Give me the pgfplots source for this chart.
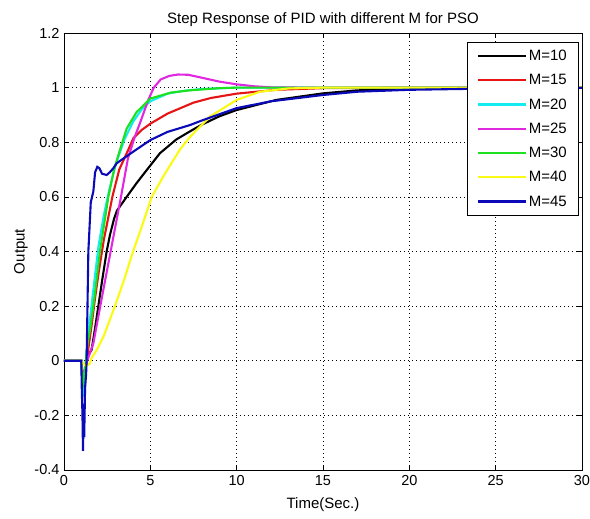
\documentclass[border=0pt]{standalone}
\usepackage{pgfplots}
\pgfplotsset{compat=1.18}
\usepackage{fontspec}
\setmainfont{Liberation Sans}
\definecolor{cblack}{rgb}{0,0,0}
\definecolor{cred}{RGB}{230,20,20}
\definecolor{ccyan}{RGB}{20,235,240}
\definecolor{cmag}{RGB}{225,40,225}
\definecolor{cgreen}{RGB}{30,225,30}
\definecolor{cyel}{RGB}{250,250,20}
\definecolor{cblue}{RGB}{10,10,185}
\begin{document}
\begin{tikzpicture}
\useasboundingbox (-64pt,-49pt) rectangle (526pt,470pt);
\begin{axis}[
  scale only axis, width=518pt, height=437pt,
  xmin=0, xmax=30, ymin=-0.4, ymax=1.2,
  xtick={0,5,10,15,20,25,30},
  ytick={-0.4,-0.2,0,0.2,0.4,0.6,0.8,1,1.2},
  yticklabels={-0.4,-0.2,0,0.2,0.4,0.6,0.8,1,1.2},
  xticklabels={0,5,10,15,20,25,30},
  tick align=inside, tick pos=both, major tick length=5pt,
  tick style={black, line width=0.6pt},
  axis line style={line width=0.7pt},
  grid=major,
  grid style={black, line width=0.6pt, dash pattern=on 0.8pt off 3.2pt},
  tick label style={font=\fontsize{14.5}{16}\selectfont},
  xticklabel style={yshift=-2pt},
  yticklabel style={xshift=-1pt},
  label style={font=\fontsize{15}{17}\selectfont},
  title style={font=\fontsize{15}{17}\selectfont, yshift=-3pt},
  title={Step Response of PID with different M for PSO},
  xlabel={Time(Sec.)},
  ylabel={Output},
  xlabel style={yshift=-5pt},
  ylabel style={yshift=0pt},
  legend cell align=left,
  legend style={at={(rel axis cs:1,1)}, anchor=north east, xshift=-4pt, yshift=-9pt,
    font=\fontsize{15}{17}\selectfont, draw=black,
    inner xsep=9pt, inner ysep=6pt, row sep=8.3pt},
  legend image code/.code={\draw[#1, line width=2.2pt] (0pt,0pt) -- (48pt,0pt);},
  every axis plot/.append style={line width=2.1pt},
]
\addplot[cblack] coordinates {(0,0)(1,0)(1.05,-0.04)(1.1,-0.07)(1.2,-0.05)(1.3,0)(1.4,0.02)(1.6,0.04)(1.8,0.12)(1.99,0.2)(2.2,0.29)(2.47,0.4)(2.66,0.46)(2.9,0.52)(3.07,0.55)(3.63,0.6)(4.2,0.65)(4.69,0.69)(5.56,0.76)(6.5,0.81)(7.3,0.84)(8,0.865)(9,0.895)(10,0.918)(12.3,0.955)(15,0.979)(17,0.99)(20,0.996)(25,0.999)(30,1)};
\addlegendentry{M=10}
\addplot[cred] coordinates {(0,0)(1,0)(1.05,-0.03)(1.1,-0.06)(1.2,-0.04)(1.3,0)(1.4,0.04)(1.6,0.13)(1.8,0.23)(2.0,0.32)(2.3,0.44)(2.8,0.6)(3.2,0.7)(3.72,0.772)(4.02,0.815)(4.5,0.845)(5,0.868)(6,0.905)(7.5,0.945)(8.5,0.962)(10,0.978)(12.3,0.992)(15,0.998)(20,1)(30,1)};
\addlegendentry{M=15}
\addplot[ccyan] coordinates {(0,0)(1,0)(1.05,-0.06)(1.1,-0.13)(1.15,-0.09)(1.25,-0.02)(1.35,0.06)(1.5,0.15)(1.7,0.26)(2.0,0.42)(2.3,0.53)(2.6,0.62)(3.0,0.72)(3.5,0.81)(4.0,0.875)(4.5,0.92)(5,0.95)(6,0.978)(7,0.989)(8,0.995)(10,1)(30,1)};
\addlegendentry{M=20}
\addplot[cmag] coordinates {(0,0)(1,0)(1.05,-0.03)(1.1,-0.06)(1.2,-0.04)(1.3,-0.01)(1.4,0.01)(1.7,0.064)(2.1,0.2)(2.7,0.4)(3.3,0.6)(3.7,0.74)(4.1,0.82)(4.4,0.87)(4.88,0.955)(5.2,1.0)(5.6,1.03)(6.1,1.043)(6.6,1.048)(7.2,1.047)(8,1.036)(9,1.022)(10,1.012)(11,1.005)(12,1.001)(14,1)(30,1)};
\addlegendentry{M=25}
\addplot[cgreen] coordinates {(0,0)(1,0)(1.05,-0.05)(1.1,-0.1)(1.15,-0.07)(1.25,-0.01)(1.35,0.06)(1.5,0.11)(1.7,0.2)(2.08,0.4)(2.57,0.6)(2.9,0.7)(3.24,0.772)(3.63,0.85)(4.2,0.91)(5,0.96)(6.2,0.982)(7.3,0.99)(9,0.998)(10,1)(30,1)};
\addlegendentry{M=30}
\addplot[cyel] coordinates {(0,0)(1,0)(1.1,-0.01)(1.3,-0.02)(1.5,-0.01)(1.6,0.01)(1.9,0.04)(2.3,0.09)(2.95,0.2)(3.5,0.3)(4.0,0.4)(4.5,0.49)(5.08,0.6)(5.8,0.68)(6.7,0.772)(7.3,0.82)(8.45,0.894)(10,0.955)(11.35,0.985)(13,0.997)(15,1)(30,1)};
\addlegendentry{M=40}
\addplot[cblue] coordinates {(0,0)(1,0)(1.03,-0.1)(1.07,-0.2)(1.1,-0.33)(1.13,-0.22)(1.17,-0.28)(1.22,-0.1)(1.28,-0.05)(1.31,0)(1.36,0.2)(1.41,0.4)(1.45,0.45)(1.55,0.58)(1.7,0.62)(1.8,0.69)(1.93,0.71)(2.05,0.705)(2.2,0.685)(2.47,0.68)(2.65,0.69)(2.86,0.705)(3.05,0.723)(3.5,0.743)(4,0.765)(5,0.808)(6,0.838)(7.3,0.863)(8,0.88)(10,0.925)(12,0.95)(15,0.973)(17,0.985)(20,0.992)(25,0.997)(30,0.999)};
\addlegendentry{M=45}
\end{axis}
\end{tikzpicture}
\end{document}
